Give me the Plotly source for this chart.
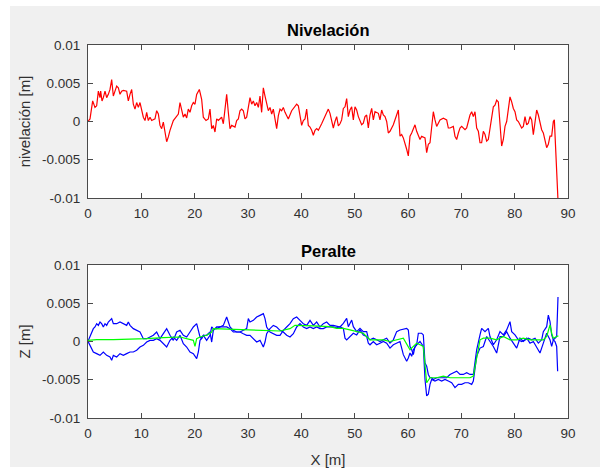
import plotly.graph_objects as go

# ---------------- data ----------------
# Nivelación (values in mm, converted to m below)
niv_x = [0, 0.375, 0.875, 1.31, 1.625, 1.94, 2.25, 2.375, 2.625, 2.875, 3.19, 3.5, 3.81, 4.125, 4.44, 4.75,
         5.06, 5.375, 5.69, 6.0, 6.31, 6.625, 7.25, 7.56, 7.875, 8.19, 8.5, 8.81, 9.125, 9.44, 9.75, 10.06,
         10.375, 10.69, 11.0, 11.31, 11.625, 11.94, 12.56, 12.875, 13.19, 13.5, 13.81, 14.125, 14.44, 14.75,
         15.06, 15.375, 16.0, 16.625, 16.94, 17.25, 17.56, 17.875, 18.19, 18.5, 18.81, 19.125, 19.44, 19.75,
         20.06, 20.375, 20.875, 21.31, 21.625, 22.125, 22.56, 22.875, 23.19, 23.5, 23.81, 24.125, 24.44,
         25.06, 25.375, 26.0, 26.31, 26.625, 26.94, 27.56, 27.875, 28.19, 28.5, 28.81, 29.125, 29.44, 29.75,
         30.06, 30.375, 30.69, 31.0, 31.31, 31.625, 31.94, 32.25, 32.56, 32.875, 33.19, 33.5, 33.81, 34.125,
         34.44, 34.75, 35.06, 35.375, 35.69, 36.0, 36.31, 36.625, 36.94, 37.56, 38.19, 39.125, 39.44, 40.06,
         40.375, 40.69, 41.0, 41.31, 41.625, 41.94, 42.25, 42.56, 42.875, 43.19, 43.81, 44.44, 45.06,
         45.375, 45.69, 46.0, 46.31, 46.625, 46.94, 47.25, 47.56, 47.875, 48.19, 48.5, 48.81, 49.125, 49.44,
         49.75, 50.06, 50.375, 50.69, 51.31, 51.625, 51.94, 52.25, 52.56, 52.875, 53.19, 53.5, 53.81, 54.44,
         54.75, 55.06, 55.375, 55.69, 56.0, 56.31, 56.625, 57.25, 57.875, 58.19, 58.5, 58.81, 59.125, 59.44,
         59.75, 60.06, 60.375, 60.69, 61.0, 61.31, 61.625, 61.94, 62.25, 62.56, 63.19, 63.5, 63.81, 64.125,
         64.44, 64.75, 65.06, 65.375, 66.0, 66.625, 67.25, 67.56, 67.875, 68.5, 68.81, 69.125, 69.44, 69.75,
         70.06, 70.69, 71.0, 71.31, 71.625, 71.94, 72.25, 72.56, 72.875, 73.19, 73.5, 73.81, 74.125, 74.44,
         74.75, 75.06, 75.375, 75.69, 76.0, 76.31, 76.625, 76.94, 77.25, 77.56, 77.875, 78.19, 78.5, 78.81,
         79.125, 79.44, 79.75, 80.06, 80.375, 80.69, 81.0, 81.31, 81.625, 81.94, 82.25, 82.56, 82.875, 83.19,
         83.5, 83.81, 84.125, 84.44, 84.75, 85.06, 85.375, 85.69, 86.0, 86.31, 86.625, 86.94, 87.25, 87.44,
         88.3]
niv_mm = [0, 0.34, 2.69, 1.84, 2.05, 3.97, 3.12, 3.97, 2.69, 3.12, 3.97, 3.12, 3.55, 4.19, 5.47, 3.33,
          3.97, 4.62, 4.40, 3.55, 3.97, 4.06, 3.97, 2.69, 3.55, 4.19, 2.26, 1.62, 2.48, 1.84, 2.48, 1.41,
          0.56, 0.13, 1.20, 0.13, 0.56, 0.13, 0.34, 1.41, 0.98, -0.51, -0.94, -0.09, -1.15, -2.65,
          -2.01, -1.15, 0.13, 0.77, 0.98, 2.48, 1.41, 0.56, 0.98, 0.47, 1.62, 1.20, 2.05, 2.48,
          2.26, 3.55, 4.19, 2.91, 0.56, 0.13, 0.34, 1.62, -0.94, -0.51, -1.37, 0.34, 0.13,
          0.56, -0.30, 3.55, 1.20, -0.94, -0.51, -0.73, 0.13, 0.34, 1.41, 1.62, 1.41, 0.34, 0.56,
          2.05, 3.12, 2.26, 2.69, 2.05, 2.48, 1.84, 3.33, 1.20, 4.40, 3.33, 2.26, 1.41, 1.84,
          0.98, 1.62, 0.56, -0.94, 0.77, 1.62, 1.41, 1.84, 1.20, 0.34, 1.41, 2.26, 2.05, -0.51,
          0.13, 0.34, 1.62, -0.51, -0.73, -1.15, -1.79, -1.15, -0.94, -1.15, -0.30, 0.77, 1.62,
          1.07, 0.0, -0.85, 0.0, 0.64, -0.56, -0.30, 0.21, 1.71, 1.92, 2.99, 0.64, 1.50, 1.92,
          0.21, 1.92, 1.50, 0.64, -0.43, -0.21, 0.64, 0.85, -0.85, 0.85, 1.71, 0.21, 1.28, 1.07,
          0.21, 1.50, 0.85, 0.64, 0.0, -1.50, -1.28, -0.43, 1.07, 1.50, -1.92, -1.71, -2.14, -2.78,
          -3.63, -4.49, -1.92, -1.50, -0.85, -0.43, -1.28, -1.92, -2.35, -1.92, -2.14, -4.06, -2.99, -2.78,
          -0.64, 1.28, 0.21, -0.64, 0.21, 0.43, 0.21, -0.85, -0.85, -0.64, -1.92, -2.35, -1.50, -0.85,
          -0.64, -1.07, -0.85, 0.0, 0.85, 1.28, 0.64, 1.28, -0.85, -1.28, -2.78, -2.78, -1.28, -1.71,
          -2.56, -2.35, -0.85, 1.07, 1.92, 2.14, 2.78, 2.56, 0.0, -3.21, -2.35, -0.64, 0.0, 1.92,
          3.21, 2.56, 1.71, 1.28, 0.21, 0.0, -0.43, -0.85, -0.64, 0.64, -0.43, -0.21, 0.64, 0.21,
          -1.71, -0.21, 1.50, 0.85, -0.21, -1.07, -1.50, -2.35, -3.42, -2.99, -1.92, -1.92, 0.0, 0.21,
          -13.0]

# Peralte: blue series A
per_a_x = [0, 0.375, 1.0, 1.31, 1.625, 1.94, 2.25, 2.56, 2.875, 3.19, 3.5, 3.81, 4.125, 4.44, 4.75, 5.375,
           6.0, 6.625, 7.25, 7.56, 7.875, 8.5, 9.125, 9.75, 10.375, 11.0, 11.625, 12.25, 12.875, 13.5,
           14.125, 14.44, 14.75, 15.375, 16.0, 16.625, 17.25, 17.875, 18.5, 19.125, 19.75, 20.375, 20.69,
           21.0, 21.31, 21.625, 22.25, 22.875, 23.19, 23.5, 24.125, 24.75, 25.375, 26.0, 26.31, 26.625,
           27.25, 27.875, 28.5, 29.125, 29.75, 30.06, 30.375, 31.0, 31.625, 32.25, 32.875, 33.19, 33.5,
           34.125, 34.75, 35.375, 36.0, 36.625, 37.25, 37.875, 38.5, 39.125, 39.75, 40.375, 41.0, 41.625,
           42.25, 42.875, 43.5, 44.125, 44.75, 45.375, 46.0, 46.625, 47.25, 47.875, 48.5, 48.81, 49.44,
           49.75, 50.375, 51.0, 51.625, 52.25, 52.56, 52.875, 53.5, 54.125, 54.75, 55.375, 56.0, 56.625,
           57.25, 57.875, 58.5, 59.75, 60.06, 60.375, 60.69, 61.0, 61.31, 61.625, 61.94, 62.56, 62.875,
           63.19, 63.5, 63.81, 64.125, 64.44, 64.75, 65.375, 66.0, 66.625, 67.25, 67.875, 68.5, 69.125,
           69.75, 70.375, 71.0, 71.625, 72.25, 72.56, 72.875, 73.5, 73.81, 74.44, 75.06, 75.375, 76.0,
           76.625, 77.25, 77.875, 78.5, 79.125, 79.44, 80.06, 80.69, 81.31, 81.94, 82.56, 83.19, 83.81,
           84.44, 85.06, 85.375, 86.0, 86.31, 86.625, 86.94, 87.25, 87.56, 87.875, 88.06]
per_a_mm = [0.02, 0.59, 1.68, 1.90, 2.33, 2.11, 2.55, 2.33, 1.90, 2.33, 2.11, 2.55, 2.77, 2.99, 2.33, 2.33,
            2.55, 2.33, 2.11, 2.55, 2.11, 1.68, 1.46, 1.24, 0.37, 0.37, 0.59, 0.81, 1.24, 0.37,
            1.02, 1.46, 1.68, 0.81, 0.15, 1.24, 1.46, 0.81, 0.59, 1.24, 1.90, 2.33, 1.24,
            0.59, 0.37, 0.81, 0.81, 1.24, -0.07, 1.46, 1.90, 1.90, 2.11, 3.20, 2.55, 1.90,
            1.46, 1.24, 1.24, 1.46, 1.68, 2.99, 2.55, 2.77, 3.20, 3.42, 3.64, 2.99, 1.90,
            1.24, 1.02, 0.81, 0.81, 1.46, 1.90, 2.33, 2.99, 3.20, 2.77, 2.33, 2.11, 2.77,
            2.11, 2.55, 1.90, 2.33, 2.55, 2.11, 2.11, 2.05, 1.90, 2.37, 3.02, 1.94, 2.80,
            1.94, 1.29, 1.72, 1.29, 1.29, 0.43, 0.22, 0.43, 0.22, 0.0, 0.22, 0.43, -0.22,
            0.22, 1.29, 1.51, 1.72, 1.51, -0.65, -1.08, -1.72, -0.65, -0.43, 1.08, 1.08, 0.86,
            -2.80, -3.23, -4.31, -4.74, -4.74, -4.96, -4.74, -4.74, -4.74, -4.74, -4.31, -4.09, -3.88,
            -4.31, -4.31, -4.09, -4.31, -4.31, -2.37, -1.08, 0.86, 1.72, 1.29, 1.72, 0.65, -0.43,
            0.22, 1.29, 0.86, 1.51, 2.59, 1.29, 0.86, 0.22, 0.0, 0.22, 0.43, 0.22, 0.43,
            -0.22, 0.22, 1.29, 1.94, 3.45, 2.59, 0.86, 0.22, 0.0, -0.65, -3.88]

# Peralte: blue series B
per_b_x = [0, 0.375, 1.0, 1.625, 2.25, 2.875, 3.5, 4.125, 4.44, 4.75, 5.375, 6.0, 6.625, 7.25, 7.875, 8.5,
           9.125, 9.75, 10.375, 11.0, 11.625, 12.25, 12.875, 13.5, 14.125, 14.75, 15.375, 16.0, 16.625,
           17.25, 17.875, 18.5, 19.125, 19.75, 20.375, 20.69, 21.0, 21.625, 22.25, 22.875, 23.19, 23.5,
           24.125, 24.75, 25.375, 26.0, 26.625, 27.25, 27.875, 28.5, 29.125, 29.75, 30.375, 31.0, 31.625,
           32.25, 32.875, 33.19, 33.5, 34.125, 34.75, 35.375, 36.0, 36.625, 37.25, 37.875, 38.5, 39.125,
           39.75, 40.375, 41.0, 41.625, 42.25, 42.875, 43.5, 44.125, 44.75, 45.375, 46.0, 46.625, 47.25,
           47.875, 48.19, 48.5, 49.125, 49.75, 50.375, 51.0, 51.625, 52.25, 52.56, 52.875, 53.5, 54.125,
           54.75, 55.375, 56.0, 56.625, 57.25, 57.875, 58.5, 59.125, 59.75, 60.06, 60.375, 60.69, 61.0,
           61.625, 62.25, 62.875, 63.19, 63.5, 63.81, 64.125, 64.44, 65.06, 65.69, 66.31, 66.94, 67.56,
           68.19, 68.81, 69.44, 70.06, 70.69, 71.31, 71.94, 72.25, 72.56, 72.875, 73.5, 74.125, 74.75,
           75.375, 76.0, 76.625, 76.94, 77.25, 77.875, 78.5, 79.125, 79.75, 80.375, 81.0, 81.625, 82.25,
           82.875, 83.5, 84.125, 84.75, 85.375, 86.0, 86.31, 86.625, 86.94, 87.25, 87.56, 87.875, 88.125]
per_b_mm = [0.02, -0.50, -1.37, -1.59, -1.81, -1.37, -1.81, -2.03, -2.46, -1.81, -2.03, -1.59, -1.81, -1.59,
            -1.37, -1.37, -1.15, -0.72, -0.50, -0.07, 0.15, 0.15, 0.37, 0.15, -0.28, -0.72, 0.15, 0.59,
            0.15, 0.81, -0.28, -0.72, -1.37, -1.59, -2.24, -1.37, 0.15, 0.81, 0.15, 0.81, 1.90, 1.68,
            1.68, 1.90, 1.90, 1.90, 1.68, 1.24, 1.24, 1.24, 1.02, 0.81, 0.81, 0.37, -0.07,
            0.15, -0.72, -0.07, 1.02, 1.68, 2.11, 1.90, 1.46, 1.24, 0.81, 0.59, 1.02, 1.90,
            2.33, 1.90, 1.68, 1.90, 1.68, 1.90, 1.68, 1.68, 1.90, 1.90, 1.90, 1.80, 1.90,
            1.72, 0.43, 0.22, 0.65, 1.08, 0.86, 1.51, 0.86, 0.65, -0.22, -0.43, 0.0, -0.43,
            -0.22, 0.0, -0.22, -0.86, -0.43, -0.22, 0.0, -1.72, -2.59, -2.16, -1.51, -1.94, -1.08,
            -0.43, 0.0, -0.65, -4.96, -7.11, -6.90, -5.60, -4.96, -5.17, -4.96, -5.17, -4.96, -5.17,
            -5.39, -6.03, -5.60, -5.60, -5.39, -5.39, -5.60, -5.17, -3.23, -1.94, -0.86, -0.65, 0.65,
            0.0, -0.65, -1.51, -0.22, 0.65, 0.65, 1.29, 0.43, -0.22, -0.86, 0.43, 0.0, 0.43,
            -0.22, 0.0, -0.86, -1.51, -0.22, 1.08, 0.65, 0.22, -0.65, 0.22, 0.43, 0.65, 5.82]

# Peralte: green (mean)
per_m_x = [0, 1.625, 4.75, 7.875, 11.0, 14.125, 17.25, 19.75, 20.06, 20.375, 21.0, 22.25, 23.19, 23.5,
           26.625, 29.75, 32.875, 36.0, 37.875, 38.81, 42.25, 45.375, 46.625, 47.875, 49.125, 50.375,
           51.625, 52.875, 54.125, 55.375, 56.625, 57.875, 59.125, 60.375, 61.0, 61.625, 62.25, 62.875,
           63.5, 64.125, 65.375, 66.625, 67.875, 69.125, 70.375, 71.625, 72.25, 72.875, 73.5, 74.125,
           75.375, 76.625, 77.875, 79.125, 80.375, 81.625, 82.875, 84.125, 85.375, 86.0, 86.625, 86.94,
           87.25, 87.875, 88.19]
per_m_mm = [0.15, 0.24, 0.24, 0.28, 0.37, 0.50, 0.59, 0.15, -0.63, 0.37, 0.59, 0.81, 1.24, 1.68,
            1.59, 1.46, 1.46, 1.37, 1.68, 2.11, 2.03, 1.94, 1.72, 1.72, 1.51, 1.29,
            1.08, 0.22, 0.22, 0.22, 0.0, 0.22, 0.43, -1.08, -0.65, -0.22, -0.43, -0.65,
            -5.39, -4.74, -4.74, -4.53, -4.74, -4.74, -4.74, -4.74, -4.53, -1.94, 0.22, 0.43,
            0.43, 0.22, 0.65, 0.22, 0.22, 0.43, 0.22, 0.22, 0.22, 0.65, 2.16, 1.08,
            0.43, 0.65, 0.73]

x_ticks = [0, 10, 20, 30, 40, 50, 60, 70, 80, 90]
y_ticks = [-0.01, -0.005, 0, 0.005, 0.01]
y_tick_labels = ["-0.01", "-0.005", "0", "0.005", "0.01"]

to_m = lambda v: [a / 1000.0 for a in v]

# ---------------- figure ----------------
W, H = 600, 473
L, R, T, B = 88, 32, 45, 55
PW, PH = W - L - R, H - T - B

def px_x(p):
    return (p - L) / PW

def px_y(p):
    return (H - B - p) / PH

FONT = "Liberation Sans, Arial, Helvetica, sans-serif"
AX_COL = "#4a4a4a"
TXT_COL = "#303030"

fig = go.Figure()
fig.add_trace(go.Scatter(x=niv_x, y=to_m(niv_mm), mode="lines",
                         line=dict(color="#ff0000", width=1.2), xaxis="x", yaxis="y"))
fig.add_trace(go.Scatter(x=per_a_x, y=to_m(per_a_mm), mode="lines",
                         line=dict(color="#0000ff", width=1.2), xaxis="x2", yaxis="y2"))
fig.add_trace(go.Scatter(x=per_b_x, y=to_m(per_b_mm), mode="lines",
                         line=dict(color="#0000ff", width=1.2), xaxis="x2", yaxis="y2"))
fig.add_trace(go.Scatter(x=per_m_x, y=to_m(per_m_mm), mode="lines",
                         line=dict(color="#00ff00", width=1.2), xaxis="x2", yaxis="y2"))

top_dom = [px_y(198), 1.0]
bot_dom = [0.0, px_y(265)]

xcommon = dict(range=[0, 90], tickvals=x_ticks, ticks="inside", ticklen=5, tickcolor=AX_COL,
               showline=True, linecolor=AX_COL, linewidth=1, mirror="ticks", showgrid=False,
               zeroline=False, tickfont=dict(family=FONT, size=13.5, color=TXT_COL), fixedrange=True,
               ticklabelstandoff=3)
ycommon = dict(range=[-0.01, 0.01], tickvals=y_ticks, ticktext=y_tick_labels, ticks="inside", ticklen=5,
               tickcolor=AX_COL, showline=True, linecolor=AX_COL, linewidth=1, mirror="ticks",
               showgrid=False, zeroline=False, tickfont=dict(family=FONT, size=13.5, color=TXT_COL),
               fixedrange=True, ticklabelstandoff=4)

fig.update_layout(
    width=W, height=H, margin=dict(l=L, r=R, t=T, b=B, autoexpand=False),
    paper_bgcolor="#f0f0f0", plot_bgcolor="#ffffff", showlegend=False,
    xaxis=dict(domain=[0, 1], anchor="y", **xcommon),
    yaxis=dict(domain=top_dom, anchor="x",
               title=dict(text="nivelación [m]", font=dict(family=FONT, size=15, color=TXT_COL), standoff=7),
               **ycommon),
    xaxis2=dict(domain=[0, 1], anchor="y2",
                title=dict(text="X [m]", font=dict(family=FONT, size=15, color=TXT_COL), standoff=14),
                **xcommon),
    yaxis2=dict(domain=bot_dom, anchor="x2",
                title=dict(text="Z [m]", font=dict(family=FONT, size=15, color=TXT_COL), standoff=7),
                **ycommon),
    annotations=[
        dict(text="<b>Nivelación</b>", x=0.5, y=px_y(30), xref="paper", yref="paper", showarrow=False,
             xanchor="center", yanchor="middle", font=dict(family=FONT, size=16.5, color="#000000")),
        dict(text="<b>Peralte</b>", x=0.5, y=px_y(251), xref="paper", yref="paper", showarrow=False,
             xanchor="center", yanchor="middle", font=dict(family=FONT, size=16.5, color="#000000")),
    ],
    shapes=[
        dict(type="rect", xref="paper", yref="paper", x0=px_x(0), x1=px_x(10), y0=px_y(H), y1=px_y(0),
             fillcolor="#ffffff", line=dict(width=0), layer="above"),
        dict(type="rect", xref="paper", yref="paper", x0=px_x(0), x1=px_x(W), y0=px_y(6), y1=px_y(0),
             fillcolor="#ffffff", line=dict(width=0), layer="above"),
        dict(type="rect", xref="paper", yref="paper", x0=px_x(0), x1=px_x(W), y0=px_y(H), y1=px_y(467),
             fillcolor="#ffffff", line=dict(width=0), layer="above"),
    ],
)

fig.write_html("out.html", config={"displayModeBar": False},
               post_script="document.body.style.margin='0px';document.body.style.overflow='hidden';")
